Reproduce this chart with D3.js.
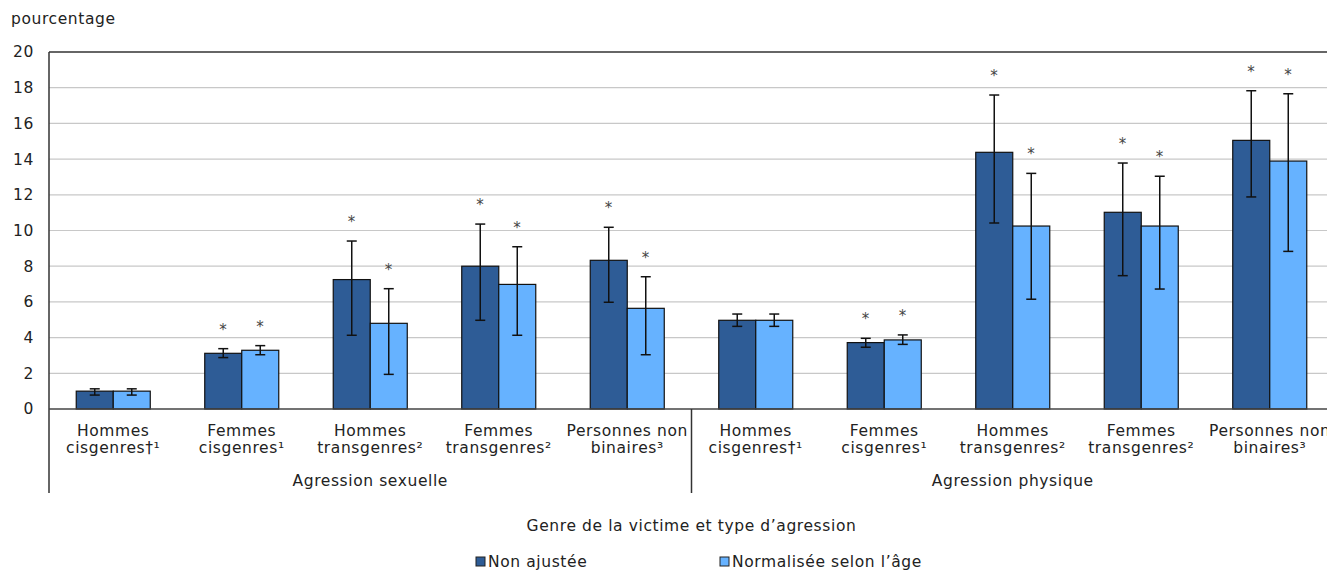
<!DOCTYPE html>
<html><head><meta charset="utf-8">
<script src="https://cdn.jsdelivr.net/npm/d3@7"></script>
<style>
html,body{margin:0;padding:0;background:#fff;overflow:hidden}
svg{display:block;font-family:"DejaVu Sans",Verdana,sans-serif}
svg text{letter-spacing:0.6px}
</style></head>
<body><svg id="c" width="1327" height="571"></svg>
<script>
// ---- data ----
const groups = ["Agression sexuelle", "Agression physique"];
const genders = [
  ["Hommes", "cisgenres\u2020\u00b9"],
  ["Femmes", "cisgenres\u00b9"],
  ["Hommes", "transgenres\u00b2"],
  ["Femmes", "transgenres\u00b2"],
  ["Personnes non", "binaires\u00b3"]
];
const seriesNames = ["Non ajustée", "Normalisée selon l\u2019âge"];
// values per category (sexual x5, physical x5)
const nonAjustee      = [1.0, 3.12, 7.25, 8.0, 8.33, 4.97, 3.72, 14.38, 11.02, 15.05];
const nonAjusteeLow   = [0.78, 2.88, 4.13, 4.97, 5.98, 4.63, 3.46, 10.42, 7.47, 11.88];
const nonAjusteeHigh  = [1.13, 3.38, 9.41, 10.36, 10.18, 5.32, 3.96, 17.59, 13.78, 17.83];
const normalisee      = [1.0, 3.29, 4.8, 6.98, 5.64, 4.97, 3.87, 10.25, 10.25, 13.89];
const normaliseeLow   = [0.78, 3.04, 1.94, 4.13, 3.04, 4.63, 3.62, 6.15, 6.72, 8.83];
const normaliseeHigh  = [1.13, 3.55, 6.74, 9.09, 7.41, 5.32, 4.15, 13.2, 13.04, 17.66];
const sigNonAjustee   = [false, true, true, true, true, false, true, true, true, true];
const sigNormalisee   = [false, true, true, true, true, false, true, true, true, true];
const yTicks = [0, 2, 4, 6, 8, 10, 12, 14, 16, 18, 20];
const yTitle = "pourcentage";
const xTitle = "Genre de la victime et type d\u2019agression";

const colors = ["#2E5C96", "#66B2FF"];
const FS = 15.5;

// ---- build ----
const cats = [];
groups.forEach((g, gi) => genders.forEach((lab, li) => cats.push({key: gi + "-" + li, group: g, lines: lab})));
const series = [
  {name: seriesNames[0], v: nonAjustee, lo: nonAjusteeLow, hi: nonAjusteeHigh, sig: sigNonAjustee, color: colors[0]},
  {name: seriesNames[1], v: normalisee, lo: normaliseeLow, hi: normaliseeHigh, sig: sigNormalisee, color: colors[1]}
];

const svg = d3.select("#c");
const m = {left: 49, top: 52, right: 1334, bottom: 409};
const x = d3.scaleBand().domain(cats.map(c => c.key)).range([m.left, m.right]).paddingInner(0.424).paddingOuter(0.212);
const xs = d3.scaleBand().domain([0, 1]).range([0, x.bandwidth()]);
const y = d3.scaleLinear().domain([0, 20]).range([m.bottom, m.top]);

// grid
svg.append("g").selectAll("line").data(yTicks.filter(t => t > 0 && t < 20)).join("line")
  .attr("x1", m.left).attr("x2", m.right).attr("y1", d => y(d)).attr("y2", d => y(d))
  .attr("stroke", "#c8c8c8").attr("stroke-width", 1.2);

// y axis
const yAxis = svg.append("g").attr("transform", `translate(${m.left},0)`)
  .call(d3.axisLeft(y).tickValues(yTicks).tickSize(0).tickPadding(15));
yAxis.select(".domain").remove();
yAxis.selectAll("text").attr("font-size", FS).attr("fill", "#222").attr("font-family", "'DejaVu Sans', Verdana, sans-serif");

svg.append("text").attr("x", 11).attr("y", 24).attr("font-size", FS).attr("fill", "#222").text(yTitle);

// bars
const bars = svg.append("g");
series.forEach((s, si) => {
  const g = bars.append("g");
  g.selectAll("rect").data(cats).join("rect")
    .attr("x", (d) => x(d.key) + xs(si)).attr("width", xs.bandwidth())
    .attr("y", (d, i) => y(s.v[i])).attr("height", (d, i) => y(0) - y(s.v[i]))
    .attr("fill", s.color).attr("stroke", "#111").attr("stroke-width", 1.2);
});
// error bars
series.forEach((s, si) => {
  const g = bars.append("g").attr("stroke", "#111").attr("stroke-width", 1.5);
  cats.forEach((d, i) => {
    const cx = x(d.key) + xs(si) + xs.bandwidth() / 2;
    g.append("line").attr("x1", cx).attr("x2", cx).attr("y1", y(s.lo[i])).attr("y2", y(s.hi[i]));
    g.append("line").attr("x1", cx - 5).attr("x2", cx + 5).attr("y1", y(s.lo[i])).attr("y2", y(s.lo[i]));
    g.append("line").attr("x1", cx - 5).attr("x2", cx + 5).attr("y1", y(s.hi[i])).attr("y2", y(s.hi[i]));
    if (s.sig[i]) {
      svg.append("text").attr("x", cx).attr("y", y(s.hi[i]) - 14).attr("text-anchor", "middle")
        .attr("font-size", 15).attr("fill", "#444").text("*");
    }
  });
});

// frame
svg.append("line").attr("x1", m.left).attr("x2", m.right).attr("y1", m.top).attr("y2", m.top).attr("stroke", "#333").attr("stroke-width", 1.5);
svg.append("line").attr("x1", m.left).attr("x2", m.left).attr("y1", m.top).attr("y2", 493).attr("stroke", "#333").attr("stroke-width", 1.5);
svg.append("line").attr("x1", m.left).attr("x2", m.right).attr("y1", m.bottom).attr("y2", m.bottom).attr("stroke", "#444").attr("stroke-width", 1.5);

// category labels
const lab = svg.append("g").attr("font-size", FS).attr("fill", "#222").attr("text-anchor", "middle");
cats.forEach(d => {
  const cx = x(d.key) + x.bandwidth() / 2;
  d.lines.forEach((t, k) => lab.append("text").attr("x", cx).attr("y", 436 + k * 17).text(t));
});
// group labels and separators
groups.forEach((g, gi) => {
  const first = x(gi + "-0") - x.step() * x.paddingInner() / 2;
  const last = x(gi + "-4") + x.bandwidth() + x.step() * x.paddingInner() / 2;
  lab.append("text").attr("x", (first + last) / 2).attr("y", 486).text(g);
  if (gi > 0) svg.append("line").attr("x1", first).attr("x2", first).attr("y1", m.bottom).attr("y2", 493).attr("stroke", "#333").attr("stroke-width", 1.5);
});

svg.append("text").attr("x", x("1-0") - x.step() * x.paddingInner() / 2).attr("y", 531).attr("text-anchor", "middle")
  .attr("font-size", FS).attr("fill", "#222").text(xTitle);

// legend
const legX = [476, 720];
series.forEach((s, si) => {
  svg.append("rect").attr("x", legX[si]).attr("y", 557).attr("width", 9).attr("height", 9)
    .attr("fill", s.color).attr("stroke", "#222").attr("stroke-width", 1);
  svg.append("text").attr("x", legX[si] + 12).attr("y", 567).attr("font-size", FS).attr("fill", "#222").text(s.name);
});
</script></body></html>
